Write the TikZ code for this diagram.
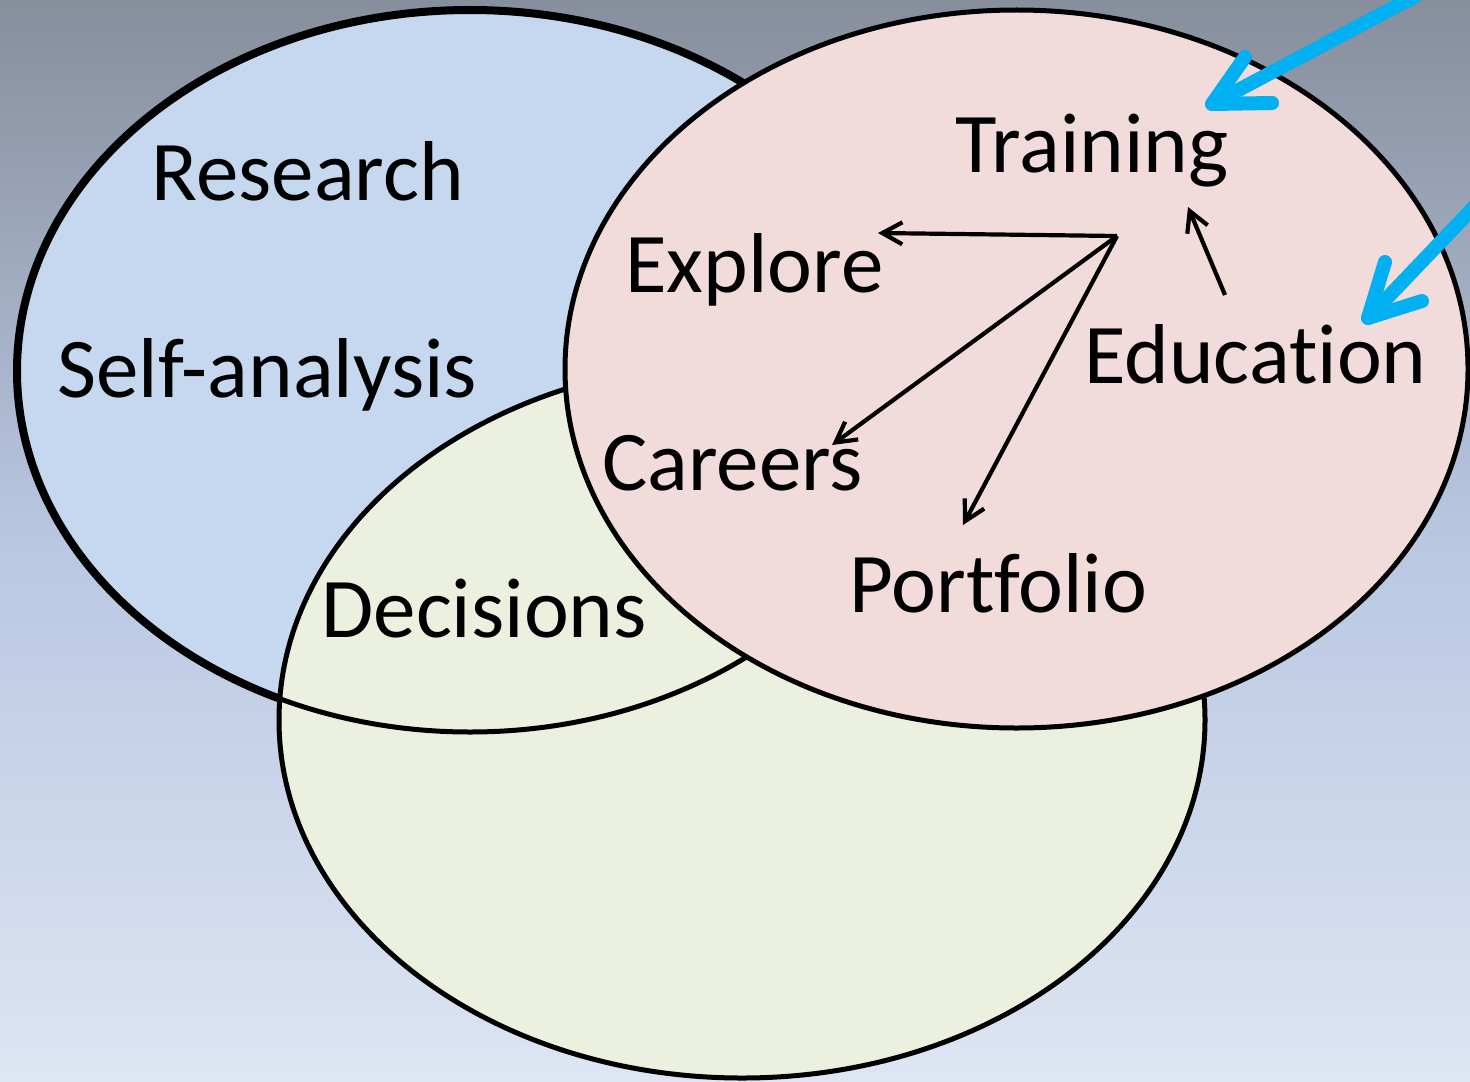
\documentclass[tikz,border=0pt]{standalone}
\usepackage{fontspec}
\setmainfont{Carlito}[Ligatures={NoCommon}]
\usetikzlibrary{arrows.meta}
\definecolor{bgtop}{HTML}{878E9C}
\definecolor{bgmid}{HTML}{B9C7E2}
\definecolor{bgbot}{HTML}{DEE5F3}
\definecolor{bluefill}{HTML}{C5D8EF}
\definecolor{pinkfill}{HTML}{F2DCDB}
\definecolor{greenfill}{HTML}{EBF1DE}
\definecolor{cyanarrow}{HTML}{00B0F0}
\tikzset{
  label/.style={anchor=base west, inner sep=0pt, font=\fontsize{42.5}{51}\selectfont},
  venn/.style={draw=black, line width=2.5pt},
  link/.style={draw=black, line width=2.1pt, -{Straight Barb[length=10pt,width=11pt]}},
  bluearrow/.style={draw=cyanarrow, line width=7pt, line cap=round, line join=round}
}
\begin{document}
\begin{tikzpicture}[x=0.5pt,y=-0.5pt]
\useasboundingbox (0,0) rectangle (1470,1081);
\shade[top color=bgtop, bottom color=bgbot, middle color=bgmid] (0,0) rectangle (1470,1081);
% circles
\draw[fill=bluefill, draw=black, line width=4pt] (470,371) ellipse [x radius=453, y radius=361];
\fill[greenfill] (742,720) ellipse [x radius=463, y radius=358];
\draw[venn] (470,371) ellipse [x radius=453, y radius=361];
\draw[venn] (742,720) ellipse [x radius=463, y radius=358];
\draw[venn, fill=pinkfill] (1016.5,369) ellipse [x radius=451.5, y radius=359];
% labels
\node[label] (research) at (151,200) {Research};
\node[label] (self) at (57,397) {Self-analysis};
\node[label] (decisions) at (321,637) {Decisions};
\node[label] (explore) at (625,292) {Explore};
\node[label] (careers) at (602,490) {Careers};
\node[label] (training) at (955,172) {Training};
\node[label] (education) at (1084,383) {Education};
\node[label] (portfolio) at (849,612) {Portfolio};
% black arrows
\coordinate (hub) at (1117,236);
\coordinate (exploreEnd) at (878,233);
\coordinate (careersEnd) at (832,445);
\coordinate (portfolioEnd) at (963,525);
\coordinate (eduStart) at (1225,295);
\coordinate (trainEnd) at (1188,207);
\draw[link] (hub) -- (exploreEnd);
\draw[link] (hub) -- (careersEnd);
\draw[link] (hub) -- (portfolioEnd);
\draw[link] (eduStart) -- (trainEnd);
% blue arrows
\coordinate (b1s) at (1440,-17);
\coordinate (b1t) at (1212,104);
\coordinate (b1a) at (1245,57);
\coordinate (b1b) at (1272,103);
\draw[bluearrow] (b1s) -- (b1t);
\draw[bluearrow] (b1a) -- (b1t) -- (b1b);
\coordinate (b2s) at (1495,185);
\coordinate (b2t) at (1368,318);
\coordinate (b2a) at (1385,262);
\coordinate (b2b) at (1422,301);
\draw[bluearrow] (b2s) -- (b2t);
\draw[bluearrow] (b2a) -- (b2t) -- (b2b);
\end{tikzpicture}
\end{document}
